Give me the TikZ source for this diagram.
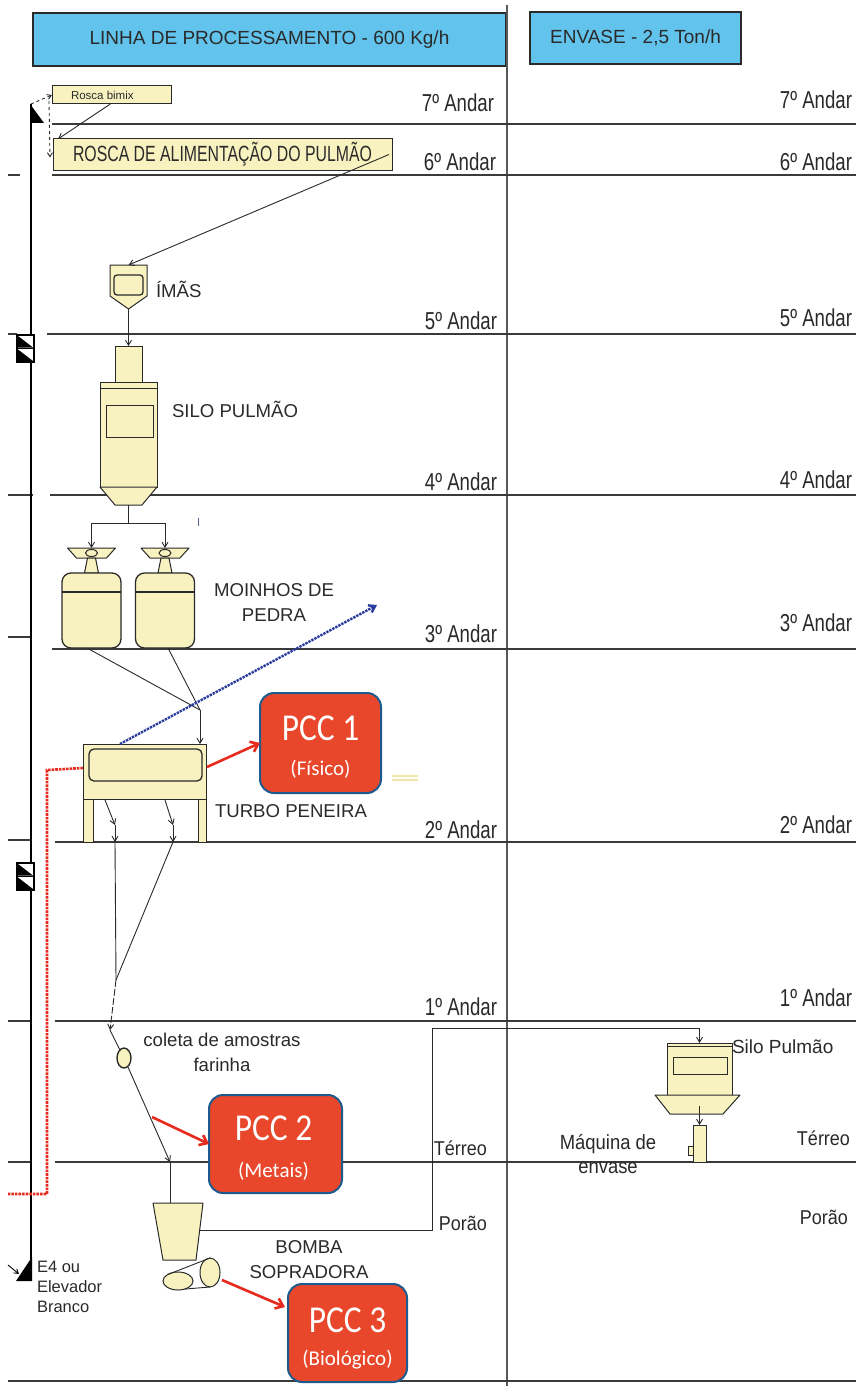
\documentclass[tikz,border=0pt]{standalone}
\usepackage{fontspec}
\setmainfont{Liberation Sans}
\newfontfamily\floorfont[FakeStretch=0.76]{Liberation Sans}
\newfontfamily\groundfont[FakeStretch=0.9]{Liberation Sans}
\newfontfamily\roscafont[FakeStretch=0.72]{Liberation Sans}
\newfontfamily\pccbig[FakeStretch=0.88]{Carlito}
\newfontfamily\pccsmall{Carlito}
\usetikzlibrary{arrows.meta,calc,shapes.geometric}

\definecolor{hdrblue}{HTML}{62C3EC}
\definecolor{eqfill}{HTML}{F8F2C0}
\definecolor{ink}{HTML}{2A2A2A}
\definecolor{rule}{HTML}{3A3A3A}
\definecolor{pccred}{HTML}{E8472B}
\definecolor{pccedge}{HTML}{1D5B8E}
\definecolor{alarmred}{HTML}{E62A1E}
\definecolor{routeblue}{HTML}{2A3C9E}
\definecolor{smudge}{HTML}{F1E6A6}

\begin{document}
\begin{tikzpicture}[x=1pt,y=-1pt,
  every node/.style={inner sep=0pt,outer sep=0pt,text=ink},
  hdr/.style={draw=ink,fill=hdrblue,line width=1.3pt,font=\fontsize{19}{21}\selectfont},
  floorline/.style={draw=rule,line width=1.3pt},
  floorlbl/.style={anchor=base east,font=\floorfont\fontsize{24.5}{26}\selectfont},
  groundlbl/.style={anchor=base east,font=\groundfont\fontsize{20}{22}\selectfont},
  eqbox/.style={draw=ink,fill=eqfill,line width=1pt},
  eqline/.style={draw=ink,fill=eqfill,line width=1pt,line join=round},
  flow/.style={draw=ink,line width=0.9pt,-{Straight Barb[length=5pt,width=6pt]}},
  pipe/.style={draw=ink,line width=0.9pt},
  lbl/.style={font=\fontsize{18.6}{25}\selectfont,align=center},
  pccbox/.style={draw=pccedge,fill=pccred,line width=2pt,rounded corners=14pt},
  pcctitle/.style={text=white,font=\pccbig\fontsize{38}{38}\selectfont},
  pccsub/.style={text=white,font=\pccsmall\fontsize{21}{21}\selectfont},
  pccarrow/.style={draw=alarmred,line width=2.6pt,-{Straight Barb[length=7pt,width=11pt]}},
  elevmark/.style={draw=black,fill=white,line width=1.2pt}
]
\useasboundingbox (0,0) rectangle (856,1386);
\fill[white] (0,0) rectangle (856,1386);

% ---- column headers and divider
\node[hdr,minimum width=473pt,minimum height=53pt] (hdrproc) at (269.5,39.5) {LINHA DE PROCESSAMENTO - 600 Kg/h};
\node[hdr,minimum width=211pt,minimum height=52pt] (hdrenv) at (635.5,38) {ENVASE - 2,5 Ton/h};
\coordinate (divtop) at (507,5);
\coordinate (divbot) at (507,1386);
\draw[draw=rule!85,line width=1.1pt] (divtop) -- (divbot);

% ---- floor lines and the short ticks left of the elevator
\foreach \yy/\xx in {124/52,175/52,334/47,495/50,649/52,842/55,1021/55,1162/55}
  \draw[floorline] (\xx,\yy) -- (856,\yy);
\draw[floorline] (8,1381) -- (856,1381);
\foreach \yy/\xx in {175/20,334/17,495/33,637/32,840/32,1021/32,1162/30}
  \draw[floorline] (8,\yy) -- (\xx,\yy);

% ---- floor names, processing side
\node[floorlbl] (pf7) at (494,112) {7º Andar};
\node[floorlbl] (pf6) at (496,170) {6º Andar};
\node[floorlbl] (pf5) at (497,329) {5º Andar};
\node[floorlbl] (pf4) at (497,490) {4º Andar};
\node[floorlbl] (pf3) at (497,642) {3º Andar};
\node[floorlbl] (pf2) at (497,838) {2º Andar};
\node[floorlbl] (pf1) at (497,1015) {1º Andar};
\node[groundlbl] (pft) at (487,1155) {Térreo};
\node[groundlbl] (pfp) at (487,1230) {Porão};
% ---- floor names, packing side
\node[floorlbl] (ef7) at (852,109) {7º Andar};
\node[floorlbl] (ef6) at (852,170) {6º Andar};
\node[floorlbl] (ef5) at (852,326) {5º Andar};
\node[floorlbl] (ef4) at (852,488) {4º Andar};
\node[floorlbl] (ef3) at (852,631) {3º Andar};
\node[floorlbl] (ef2) at (852,833) {2º Andar};
\node[floorlbl] (ef1) at (852,1006) {1º Andar};
\node[groundlbl] (eft) at (850,1145) {Térreo};
\node[groundlbl] (efp) at (848,1224) {Porão};

% ---- bucket elevator E4
\coordinate (elevtop) at (31,104);
\coordinate (elevbot) at (31,1281);
\draw[black,line width=2pt] (elevtop) -- (elevbot);
\fill[black] (30,104) -- (44,123) -- (30,123) -- cycle;
\fill[black] (32,1257) -- (32,1281) -- (16,1281) -- cycle;
\coordinate (e4from) at (8,1265);
\coordinate (e4to) at (19,1274);
\draw[draw=black,line width=0.9pt,-{Straight Barb[length=4pt,width=5pt]}] (e4from) -- (e4to);
\foreach \yy in {335,863} {
  \draw[elevmark] (17,\yy) rectangle (34,\yy+27);
  \fill[black] (18,\yy+1) -- (18,\yy+12.5) -- (33,\yy+12.5) -- cycle;
  \fill[black] (18,\yy+14.5) -- (18,\yy+26) -- (33,\yy+26) -- cycle;
  \draw[black,line width=1pt] (17,\yy+13.5) -- (34,\yy+13.5);
}
\node[anchor=north west,align=left,font=\fontsize{16.5}{20}\selectfont] (e4lbl) at (37,1261) {E4 ou\\Elevador\\Branco};

% ---- feed screws
\node[eqbox,minimum width=119pt,minimum height=18pt] (bimix) at (111.5,95) {};
\node[anchor=west,font=\fontsize{11.5}{12}\selectfont] (bimixtxt) at (71,95.5) {Rosca bimix};
\node[eqbox,minimum width=339pt,minimum height=31pt,font=\roscafont\fontsize{22}{24}\selectfont] (rosca) at (222.5,154.5) {ROSCA DE ALIMENTAÇÃO DO PULMÃO};
\draw[pipe,dashed,-{Straight Barb[length=4pt,width=5pt]}] (elevtop) -- (bimix.west);
\draw[pipe,dashed,-{Straight Barb[length=4pt,width=5pt]}] ($(bimix.south west)+(-3,-3)$) -- ($(rosca.west)+(-3,3)$);
\draw[flow] ($(bimix.south west)!0.49!(bimix.south east)$) -- ($(rosca.north west)+(5,0)$);

% ---- magnets
\node[minimum width=37pt,minimum height=31pt] (imas) at (128.5,280.5) {};
\draw[eqline] (imas.north west) -- (imas.north east) -- (imas.south east)
  -- ($(imas.south)+(0,13)$) coordinate (imastip) -- (imas.south west) -- cycle;
\node[draw=ink,fill=eqfill,line width=1.3pt,rounded corners=3pt,minimum width=29pt,minimum height=20pt] (imaswin) at (128.5,285) {};
\node[anchor=base west,font=\fontsize{18.6}{20}\selectfont] (imaslbl) at (156,297) {ÍMÃS};
\draw[flow] ($(rosca.east)+(-3,0)$) -- (imas.north);

% ---- buffer silo
\node[eqbox,minimum width=27pt,minimum height=36pt] (silotop) at (128.5,364) {};
\node[eqbox,minimum width=57pt,minimum height=105pt] (silobody) at (128.5,434.5) {};
\draw[pipe] ($(silobody.north west)+(0,6)$) -- ($(silobody.north east)+(0,6)$);
\node[eqbox,minimum width=47pt,minimum height=32pt] (silowin) at (129.5,421) {};
\draw[eqline] (silobody.south west) -- (silobody.south east) -- ($(silobody.south east)+(-15,18)$)
  -- ($(silobody.south west)+(15,18)$) -- cycle;
\coordinate (silocone) at ($(silobody.south)+(0,18)$);
\node[anchor=base west,font=\fontsize{18.6}{20}\selectfont] (silolbl) at (172,417) {SILO PULMÃO};
\draw[flow] (imastip) -- (silotop.north);

% ---- stone mills
\foreach \cx/\nm in {91.5/mill1,165/mill2} {
  \draw[eqline] (\cx-24,548) -- (\cx+24,548) -- (\cx+15,558) -- (\cx-15,558) -- cycle;
  \draw[eqline] (\cx,553) ellipse [x radius=6pt,y radius=3.5pt];
  \draw[eqline] (\cx-4,558) -- (\cx+4,558) -- (\cx+7,573) -- (\cx-7,573) -- cycle;
  \node[eqbox,line width=1.3pt,rounded corners=9pt,minimum width=59pt,minimum height=75pt] (\nm) at (\cx,610.5) {};
  \draw[pipe,line width=1.2pt] ($(\nm.north west)+(0,19)$) -- ($(\nm.north east)+(0,19)$);
}
\coordinate (millAin) at (91.5,548);
\coordinate (millBin) at (165,548);
\coordinate (split) at (128.5,523);
\draw[pipe] (silocone) -- (split);
\draw[flow] (split) -| (millAin);
\draw[flow] (split) -| (millBin);
\node[lbl] (millslbl) at (274,602.5) {MOINHOS DE\\PEDRA};

% ---- turbo sifter
\node[eqbox,minimum width=10pt,minimum height=43pt] (legL) at (88,820.5) {};
\node[eqbox,minimum width=8pt,minimum height=43pt] (legR) at (202,820.5) {};
\node[eqbox,minimum width=123pt,minimum height=55pt] (turbo) at (144.5,771.5) {};
\node[eqbox,line width=1.3pt,rounded corners=5pt,minimum width=113pt,minimum height=32pt] (turbowin) at (145.5,765) {};
\node[anchor=base west,font=\fontsize{18.6}{20}\selectfont] (turbolbl) at (215,817) {TURBO PENEIRA};
\coordinate (merge) at (200,710);
\draw[pipe] ($(mill1.south)+(-4.5,0)$) -- (merge);
\draw[pipe] ($(mill2.south)+(3,0)$) -- (merge);
\draw[flow] (merge) -- (merge |- turbo.north);

% ---- sifter outlets down to the sampling point
\coordinate (outA) at (105,800);
\coordinate (outAk) at (115,825);
\coordinate (outAf) at (115,842);
\coordinate (outB) at (165,800);
\coordinate (outBk) at (173,825);
\coordinate (outBf) at (173,842);
\coordinate (join) at (116,980);
\coordinate (colin) at (110,1030);
\draw[flow] (outA) -- (outAk);
\draw[flow] (outAk) -- (outAf);
\draw[flow] (outB) -- (outBk);
\draw[flow] (outBk) -- (outBf);
\draw[pipe] (outAf) -- (join);
\draw[pipe] (outBf) -- (join);
\draw[flow,dash pattern=on 7pt off 2pt] (join) -- (colin);

\node[eqbox,ellipse,line width=1.4pt,minimum width=14pt,minimum height=20pt] (coleta) at (124,1058) {};
\node[lbl] (coletalbl) at (222,1052.5) {coleta de amostras\\farinha};
\draw[pipe] (colin) -- (coleta);
\coordinate (drop) at (170,1162);
\draw[flow] (coleta) -- (drop);

% ---- blower hopper and blower
\draw[eqline] (153,1203) coordinate (cupTL) -- (203,1203) coordinate (cupTR)
  -- (196,1260) coordinate (cupBR) -- (163,1260) coordinate (cupBL) -- cycle;
\draw[pipe] (drop) -- (drop |- cupTL);
\node[eqbox,ellipse,minimum width=30pt,minimum height=18pt] (blowA) at (178,1281) {};
\node[eqbox,ellipse,minimum width=20pt,minimum height=29pt] (blowB) at (210,1272.5) {};
\draw[pipe] (blowA.150) -- (blowB.north);
\draw[pipe] (blowA.-50) -- (blowB.south);
\node[lbl] (bombalbl) at (309,1259.5) {BOMBA\\SOPRADORA};

% ---- packing line: silo and bagging machine
\node[eqbox,minimum width=65pt,minimum height=3pt] (esilolid) at (699.5,1044.5) {};
\node[eqbox,minimum width=65pt,minimum height=49pt] (esilo) at (699.5,1070.5) {};
\node[eqbox,minimum width=54pt,minimum height=17pt] (esilowin) at (700,1065.5) {};
\draw[eqline] ($(esilo.south west)+(-12,0)$) -- ($(esilo.south east)+(8,0)$)
  -- ($(esilo.south east)+(-9,19)$) -- ($(esilo.south west)+(3,19)$) -- cycle;
\node[anchor=base west,font=\fontsize{19}{20}\selectfont] (esilolbl) at (732,1053) {Silo Pulmão};
\node[eqbox,minimum width=13pt,minimum height=37pt] (envmach) at (699.5,1143.5) {};
\node[eqbox,minimum width=5pt,minimum height=9pt] (envbtn) at (690.5,1150.5) {};
\draw[flow] ($(esilo.south)+(0,11)$) -- (envmach.north);
\node[align=center,font=\groundfont\fontsize{20.5}{24}\selectfont] (envlbl) at (608,1154.5) {Máquina de\\envase};

% ---- transport from the blower to the packing silo
\coordinate (cupR) at ($(cupTR)!0.49!(cupBR)$);
\coordinate (riser) at (432,1028);
\draw[flow] (cupR) -| (riser) -| (esilolid.north);

% ---- aspiration and reject routes
\coordinate (vent) at (377,605);
\draw[routeblue,line width=2.4pt,densely dotted,-{Straight Barb[length=6pt,width=8pt]}] ($(turbo.north west)+(37,0)$) -- (vent);
\coordinate (rejA) at (47,770);
\coordinate (rejB) at (47,1194);
\coordinate (rejC) at (8,1194);
\draw[alarmred,line width=2.6pt,densely dotted] ($(turbo.west)+(0,-3.5)$) -- (rejA) -- (rejB) -- (rejC);

% ---- critical control points
\node[pccbox,minimum width=121pt,minimum height=100pt] (pcc1) at (320.5,743) {};
\node[pcctitle] (pcc1t) at ($(pcc1.center)+(0,-15)$) {PCC 1};
\node[pccsub] (pcc1s) at ($(pcc1.center)+(0,26)$) {(Físico)};
\node[pccbox,minimum width=133pt,minimum height=98pt] (pcc2) at (275.5,1144) {};
\node[pcctitle] (pcc2t) at ($(pcc2.center)+(-2,-16)$) {PCC 2};
\node[pccsub] (pcc2s) at ($(pcc2.center)+(-2,27)$) {(Metais)};
\node[pccbox,minimum width=119pt,minimum height=98pt] (pcc3) at (347.5,1333) {};
\node[pcctitle] (pcc3t) at ($(pcc3.center)+(0,-13)$) {PCC 3};
\node[pccsub] (pcc3s) at ($(pcc3.center)+(0,27)$) {(Biológico)};

\coordinate (alarm1) at (207,767);
\coordinate (alarm2) at (152,1117);
\coordinate (alarm3) at (222,1280);
\draw[pccarrow] (alarm1) -- (pcc1.west);
\draw[pccarrow] (alarm2) -- (pcc2.west);
\draw[pccarrow] (alarm3) -- ($(pcc3.north west)+(-3,23)$);

% ---- small marks
\draw[smudge,line width=1.5pt] (392,776) -- (418,776) (392,780) -- (418,780);
\draw[routeblue!45!gray,line width=0.8pt] (198,518) -- (198,526);
\end{tikzpicture}
\end{document}
